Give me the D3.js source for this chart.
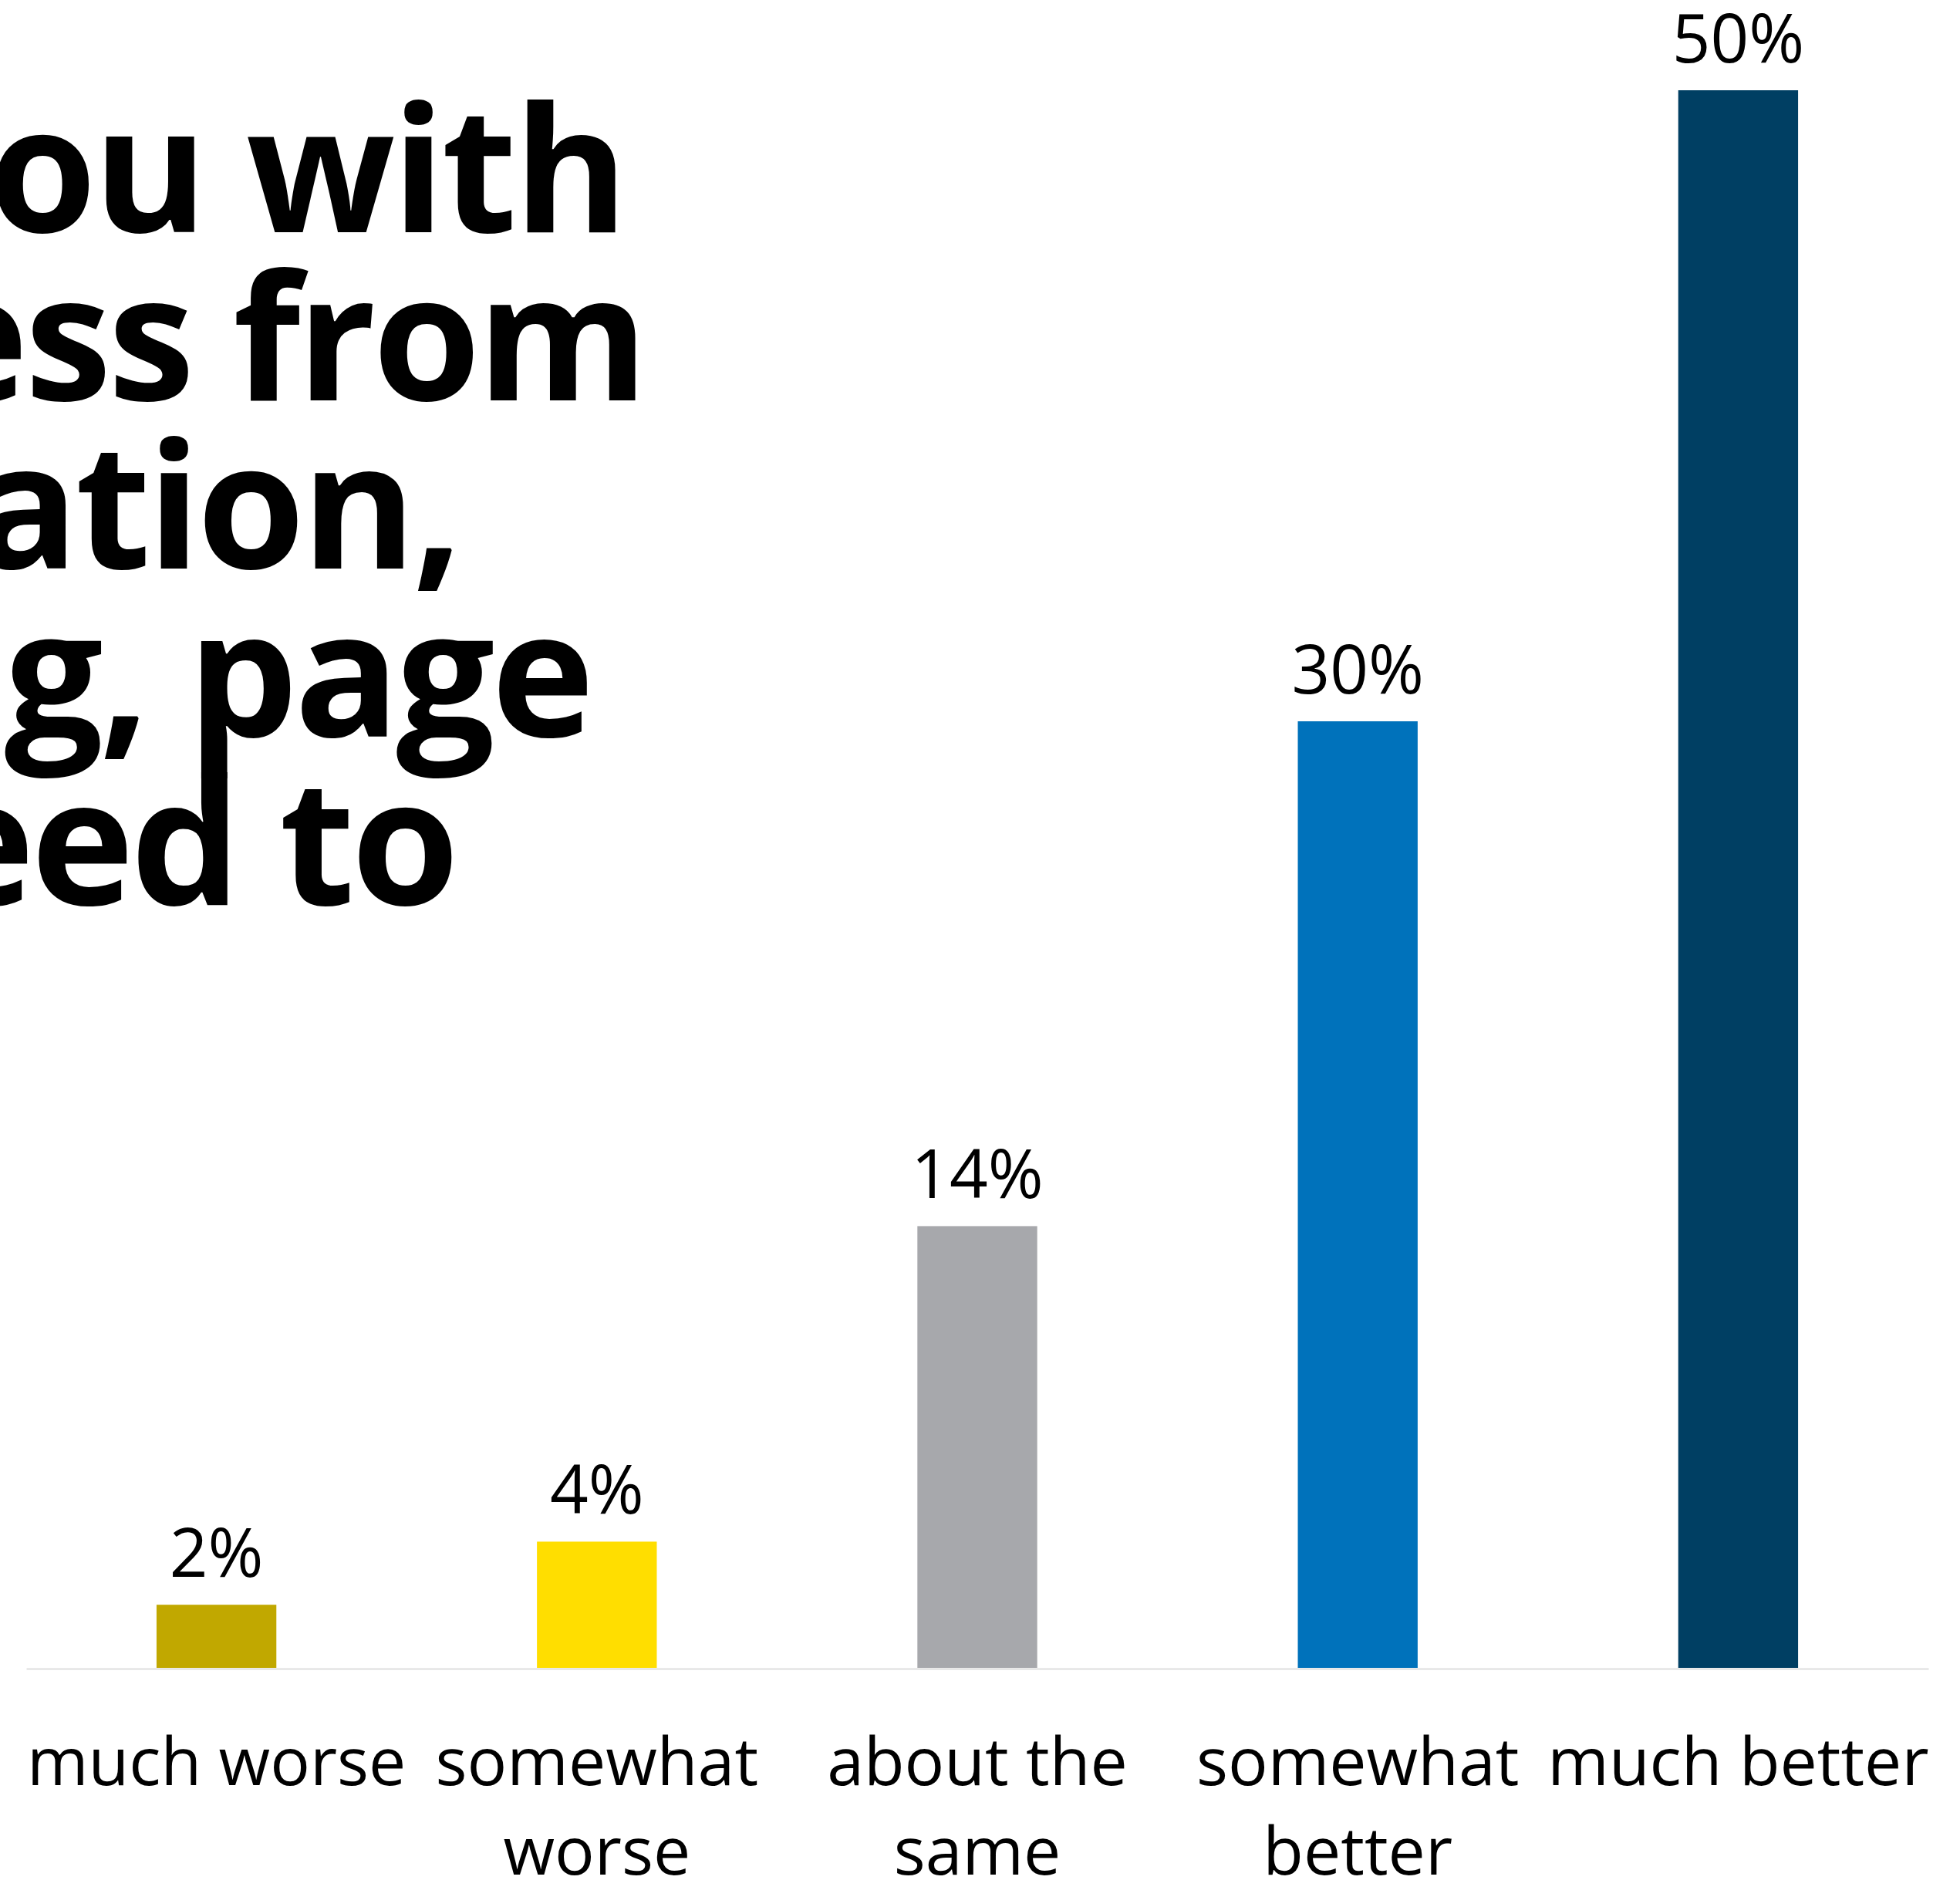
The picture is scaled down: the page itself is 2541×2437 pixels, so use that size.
<!DOCTYPE html>
<html>
<head>
<meta charset="utf-8">
<script src="https://cdn.jsdelivr.net/npm/d3@7"></script>
<style>
  html, body { margin: 0; padding: 0; background: #ffffff; }
  svg { display: block; }
</style>
</head>
<body>
<svg id="chart" width="2541" height="2437"></svg>
<script>
// ---- data ----
const categories = ["much worse", "somewhat worse", "about the same", "somewhat better", "much better"];
const values = [2, 4, 14, 30, 50];
const valueLabels = ["2%", "4%", "14%", "30%", "50%"];
const barColors = ["#C1A800", "#FFDE00", "#A7A8AC", "#0072BB", "#003F63"];
const titleLines = ["for you with", "access from", "navigation,", "loading, page", "speed to"];

// ---- layout ----
const W = 2541, H = 2437;
const svg = d3.select("#chart");
const baseY = 2162;

const x = d3.scaleBand()
  .domain(categories)
  .range([34, 2500])
  .paddingInner(0.685)
  .paddingOuter(0.3425);

const y = d3.scaleLinear()
  .domain([0, 50])
  .range([baseY, 117]);

// title (clipped at the left edge, like the reference)
const titleEnds = [810, 836, 595, 766, 591];
const titleBase = 301, titleStep = 218;
svg.append("g").attr("class", "title")
  .selectAll("text")
  .data(titleLines)
  .join("text")
  .attr("x", (d, i) => titleEnds[i])
  .attr("y", (d, i) => titleBase + i * titleStep)
  .attr("text-anchor", "end")
  .attr("font-family", "'Open Sans', 'Noto Sans', sans-serif")
  .attr("font-weight", 700)
  .attr("font-size", 226)
  .attr("letter-spacing", -4.5)
  .attr("fill", "#000")
  .text(d => d);

// bars
svg.append("g").attr("class", "bars")
  .selectAll("rect")
  .data(categories)
  .join("rect")
  .attr("x", d => x(d))
  .attr("width", x.bandwidth())
  .attr("y", (d, i) => y(values[i]))
  .attr("height", (d, i) => y(0) - y(values[i]))
  .attr("fill", (d, i) => barColors[i]);

// value labels
svg.append("g").attr("class", "value-labels")
  .selectAll("text")
  .data(categories)
  .join("text")
  .attr("x", d => x(d) + x.bandwidth() / 2)
  .attr("y", (d, i) => y(values[i]) - 36)
  .attr("text-anchor", "middle")
  .attr("font-family", "'Open Sans', 'Noto Sans', sans-serif")
  .attr("font-size", 87)
  .attr("fill", "#000")
  .text((d, i) => valueLabels[i]);

// x axis
const xAxis = d3.axisBottom(x).tickSize(0).tickSizeOuter(0).tickPadding(0);
const axisG = svg.append("g")
  .attr("class", "x-axis")
  .attr("transform", `translate(0,${baseY + 1})`)
  .call(xAxis);

axisG.select(".domain")
  .attr("stroke", "#E4E4E4")
  .attr("stroke-width", 2.5);

const maxLabelW = x.step() * 1.1;
axisG.selectAll(".tick text")
  .attr("font-family", "'Open Sans', 'Noto Sans', sans-serif")
  .attr("font-size", 86)
  .attr("fill", "#000")
  .attr("y", 0)
  .attr("dy", null)
  .each(function(d) {
    const t = d3.select(this);
    const words = d.split(" ");
    t.text(null);
    const lines = [];
    let cur = [];
    const probe = t.append("tspan");
    words.forEach(w => {
      const test = cur.concat([w]).join(" ");
      probe.text(test);
      if (probe.node().getComputedTextLength() > maxLabelW && cur.length) {
        lines.push(cur.join(" "));
        cur = [w];
      } else {
        cur.push(w);
      }
    });
    if (cur.length) lines.push(cur.join(" "));
    probe.remove();
    lines.forEach((ln, i) => {
      t.append("tspan")
        .attr("x", 0)
        .attr("y", 151 + i * 116)
        .text(ln);
    });
  });
</script>
</body>
</html>
